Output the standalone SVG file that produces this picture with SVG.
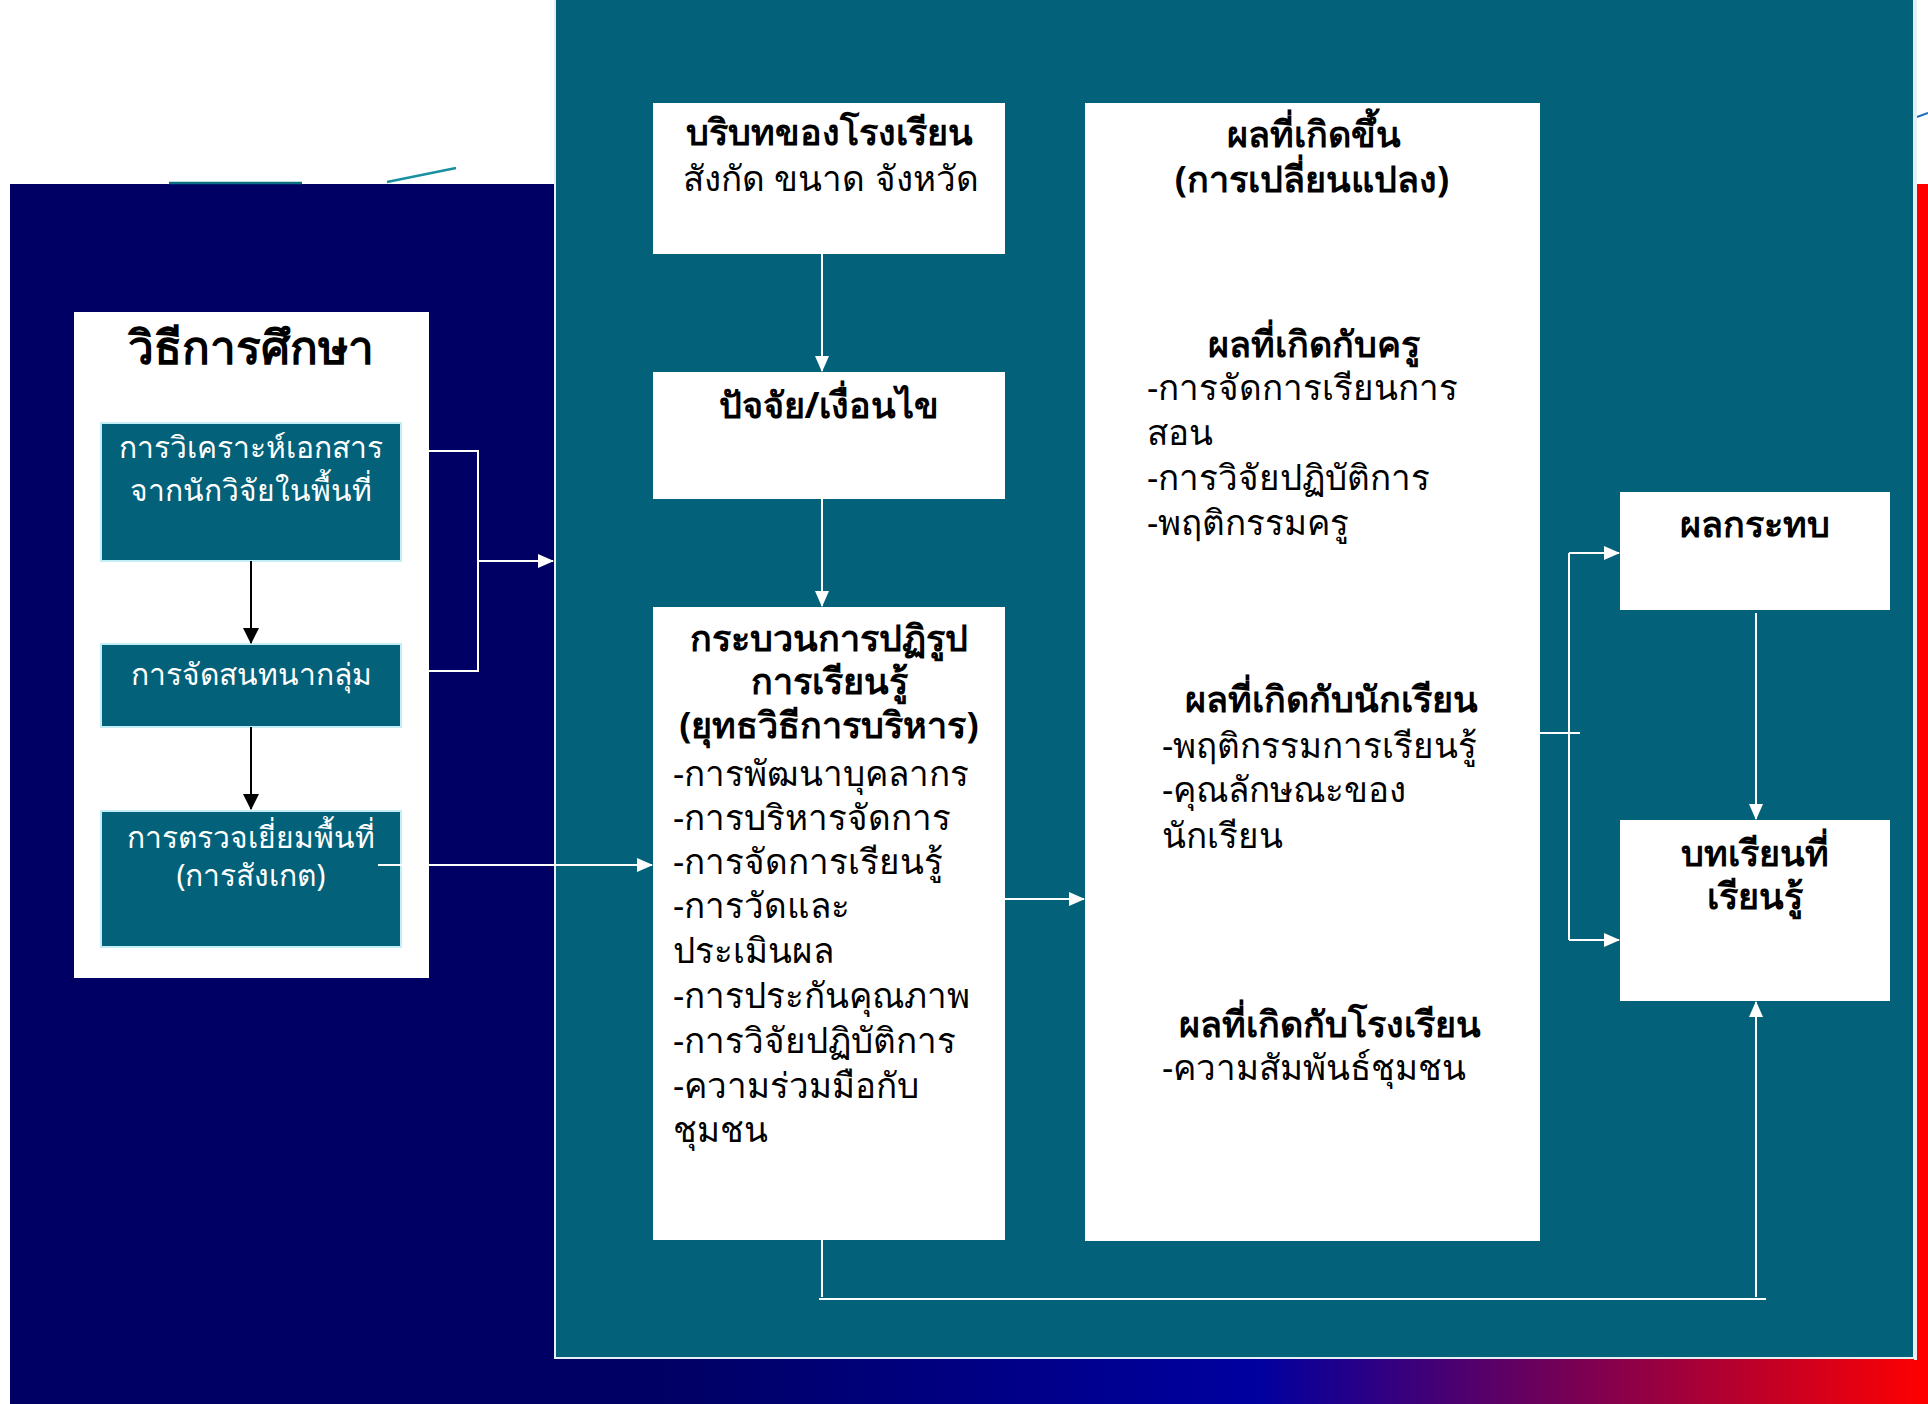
<svg xmlns="http://www.w3.org/2000/svg" width="1928" height="1404" viewBox="0 0 1928 1404">
<defs>
<linearGradient id="bg" x1="10" y1="0" x2="1928" y2="0" gradientUnits="userSpaceOnUse">
<stop offset="0" stop-color="#000064"/>
<stop offset="0.34" stop-color="#000064"/>
<stop offset="0.65" stop-color="#0000a0"/>
<stop offset="1" stop-color="#ff0000"/>
</linearGradient>
<marker id="aw" markerUnits="userSpaceOnUse" markerWidth="16" markerHeight="16" viewBox="0 0 16 16" refX="15" refY="8" orient="auto">
<path d="M0,1 L16,8 L0,15 Z" fill="#ffffff"/>
</marker>
<marker id="ab" markerUnits="userSpaceOnUse" markerWidth="16" markerHeight="18" viewBox="0 0 16 18" refX="15" refY="9" orient="auto">
<path d="M0,1 L16,9 L0,17 Z" fill="#000000"/>
</marker>
<style>
.panel{fill:#03627a}
.wbox{fill:#ffffff}
.tbox{fill:#03627a;stroke:#c4eef6;stroke-width:2}
.t{font-family:"Noto Sans","DejaVu Sans",sans-serif;fill:#000000;font-size:35px}
.b{font-weight:bold;font-size:36px}
.c{text-anchor:middle}
.wt{fill:#ffffff;font-size:30px}
.ttl{font-size:46px}
.cw{fill:none;stroke:#ffffff;stroke-width:2}
.cb{fill:none;stroke:#000000;stroke-width:2}
</style>
</defs>
<rect x="0" y="0" width="1928" height="1404" fill="#ffffff"/>
<rect x="10" y="184" width="1918" height="1220" fill="url(#bg)"/>
<path d="M169,183 H302" stroke="#0a7080" stroke-width="2.5" fill="none"/>
<path d="M387,182 L456,168" stroke="#1890a0" stroke-width="2.5" fill="none"/>
<path d="M1917,117 L1928,113" stroke="#1a6ec0" stroke-width="2" fill="none"/>
<rect x="1914" y="0" width="3" height="1360" fill="#e8eef2"/>
<rect class="panel" x="555" y="-2" width="1359" height="1360" stroke="#e6f0f4" stroke-width="2"/>

<g id="method">
<rect class="wbox" x="74" y="312" width="355" height="666"/>
<text class="t b c ttl" x="251" y="364">วิธีการศึกษา</text>
</g>
<g id="doc-analysis">
<rect class="tbox" x="101" y="423" width="300" height="138"/>
<text class="t wt c" x="251" y="458">การวิเคราะห์เอกสาร</text>
<text class="t wt c" x="251" y="501">จากนักวิจัยในพื้นที่</text>
</g>
<g id="focus-group">
<rect class="tbox" x="101" y="644" width="300" height="83"/>
<text class="t wt c" x="251" y="685">การจัดสนทนากลุ่ม</text>
</g>
<g id="site-visit">
<rect class="tbox" x="101" y="811" width="300" height="136"/>
<text class="t wt c" x="251" y="848">การตรวจเยี่ยมพื้นที่</text>
<text class="t wt c" x="251" y="886">(การสังเกต)</text>
</g>

<g id="context">
<rect class="wbox" x="653" y="103" width="352" height="151"/>
<text class="t b c" x="829" y="145">บริบทของโรงเรียน</text>
<text class="t c" x="831" y="191">สังกัด ขนาด จังหวัด</text>
</g>
<g id="factors">
<rect class="wbox" x="653" y="372" width="352" height="127"/>
<text class="t b c" x="829" y="418">ปัจจัย/เงื่อนไข</text>
</g>
<g id="process">
<rect class="wbox" x="653" y="607" width="352" height="633"/>
<text class="t b c" x="829" y="651">กระบวนการปฏิรูป</text>
<text class="t b c" x="829" y="694">การเรียนรู้</text>
<text class="t b c" x="829" y="738">(ยุทธวิธีการบริหาร)</text>
<text class="t" x="673" y="786">-การพัฒนาบุคลากร</text>
<text class="t" x="673" y="830">-การบริหารจัดการ</text>
<text class="t" x="673" y="874">-การจัดการเรียนรู้</text>
<text class="t" x="673" y="918">-การวัดและ</text>
<text class="t" x="673" y="963">ประเมินผล</text>
<text class="t" x="673" y="1008">-การประกันคุณภาพ</text>
<text class="t" x="673" y="1053">-การวิจัยปฏิบัติการ</text>
<text class="t" x="673" y="1098">-ความร่วมมือกับ</text>
<text class="t" x="673" y="1142">ชุมชน</text>
</g>
<g id="outcomes">
<rect class="wbox" x="1085" y="103" width="455" height="1138"/>
<text class="t b c" x="1314" y="147">ผลที่เกิดขึ้น</text>
<text class="t b c" x="1312" y="192">(การเปลี่ยนแปลง)</text>
<text class="t b c" x="1314" y="357">ผลที่เกิดกับครู</text>
<text class="t" x="1147" y="400">-การจัดการเรียนการ</text>
<text class="t" x="1147" y="445">สอน</text>
<text class="t" x="1147" y="490">-การวิจัยปฏิบัติการ</text>
<text class="t" x="1147" y="535">-พฤติกรรมครู</text>
<text class="t b c" x="1331" y="712">ผลที่เกิดกับนักเรียน</text>
<text class="t" x="1162" y="758">-พฤติกรรมการเรียนรู้</text>
<text class="t" x="1162" y="802">-คุณลักษณะของ</text>
<text class="t" x="1162" y="848">นักเรียน</text>
<text class="t b c" x="1330" y="1037">ผลที่เกิดกับโรงเรียน</text>
<text class="t" x="1162" y="1080">-ความสัมพันธ์ชุมชน</text>
</g>
<g id="impact">
<rect class="wbox" x="1620" y="492" width="270" height="118"/>
<text class="t b c" x="1755" y="537">ผลกระทบ</text>
</g>
<g id="lessons">
<rect class="wbox" x="1620" y="820" width="270" height="181"/>
<text class="t b c" x="1755" y="866">บทเรียนที่</text>
<text class="t b c" x="1755" y="909">เรียนรู้</text>
</g>

<g id="connectors">
<path class="cb" d="M251,561 V643" marker-end="url(#ab)"/>
<path class="cb" d="M251,727 V809" marker-end="url(#ab)"/>
<path class="cw" d="M429,451 H478 V671 H429"/>
<path class="cw" d="M478,561 H553" marker-end="url(#aw)"/>
<path class="cw" d="M378,865 H652" marker-end="url(#aw)"/>
<path class="cw" d="M822,254 V371" marker-end="url(#aw)"/>
<path class="cw" d="M822,499 V606" marker-end="url(#aw)"/>
<path class="cw" d="M1005,899 H1084" stroke-width="3" marker-end="url(#aw)"/>
<path class="cw" d="M1540,733 H1580"/>
<path class="cw" d="M1569,553 V940"/>
<path class="cw" d="M1569,553 H1619" marker-end="url(#aw)"/>
<path class="cw" d="M1569,940 H1619" marker-end="url(#aw)"/>
<path class="cw" d="M1756,613 V819" marker-end="url(#aw)"/>
<path class="cw" d="M822,1240 V1297" stroke-width="3"/>
<path class="cw" d="M819,1299 H1766" stroke-width="4"/>
<path class="cw" d="M1756,1297 V1002" stroke-width="3" marker-end="url(#aw)"/>
</g>
</svg>
